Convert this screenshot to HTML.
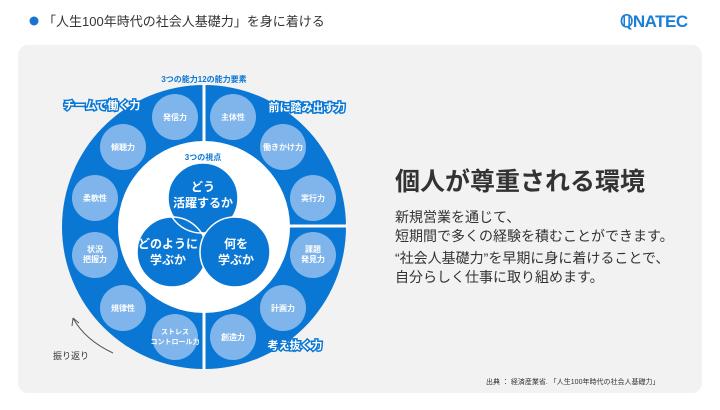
<!DOCTYPE html>
<html><head><meta charset="utf-8"><style>
body{margin:0;width:720px;height:405px;background:#fff;overflow:hidden;font-family:"Liberation Sans","Noto Sans CJK JP",sans-serif}
</style></head><body>
<svg width="720" height="405" xmlns="http://www.w3.org/2000/svg" style="font-family:'Liberation Sans','Noto Sans CJK JP',sans-serif">
<circle cx="34" cy="21" r="4.5" fill="#1a73d1"/>
<text x="43" y="26" font-size="13" fill="#333">「人生100年時代の社会人基礎力」を身に着ける</text>
<text x="620" y="27" font-size="17" font-weight="bold" fill="#1a7fd6" letter-spacing="-0.5">ℚNATEC</text>
<rect x="18" y="45" width="684" height="348" rx="10" fill="#f2f2f2"/>
<circle cx="204" cy="227" r="142" fill="#0a77d5"/>
<line x1="204" y1="84" x2="204" y2="142" stroke="#fff" stroke-width="3"/>
<line x1="204" y1="312" x2="204" y2="370" stroke="#fff" stroke-width="3"/>
<line x1="289" y1="226" x2="347" y2="226" stroke="#fff" stroke-width="3"/>
<circle cx="204" cy="227" r="86" fill="#fff"/>
<g fill="#7fb5ea">
<circle cx="175" cy="117" r="23"/><circle cx="233" cy="117" r="23"/>
<circle cx="123" cy="147" r="23"/><circle cx="283" cy="147" r="23"/>
<circle cx="95" cy="198" r="23"/><circle cx="313" cy="198" r="23"/>
<circle cx="95" cy="255" r="23"/><circle cx="313" cy="255" r="23"/>
<circle cx="123" cy="308" r="23"/><circle cx="283" cy="308" r="23"/>
<circle cx="175" cy="337" r="23"/><circle cx="233" cy="337" r="23"/>
</g>
<g fill="#fff" font-size="8" font-weight="bold" text-anchor="middle">
<text x="175" y="120">発信力</text><text x="233" y="120">主体性</text>
<text x="123" y="150">傾聴力</text><text x="283" y="150">働きかけ力</text>
<text x="95" y="201">柔軟性</text><text x="313" y="201">実行力</text>
<text x="95" y="252">状況</text><text x="95" y="262">把握力</text>
<text x="313" y="252">課題</text><text x="313" y="262">発見力</text>
<text x="123" y="311">規律性</text><text x="283" y="311">計画力</text>
<text x="175" y="334" font-size="7">ストレス</text><text x="175" y="344" font-size="7">コントロール力</text>
<text x="233" y="340">創造力</text>
</g>
<g fill="#0a77d5" stroke="#fff" stroke-width="1.5">
<circle cx="203" cy="198" r="35"/>
<circle cx="172" cy="252" r="35"/>
<circle cx="235" cy="252" r="35"/>
</g>
<path d="M203 233 A35 35 0 0 1 172 217" fill="none" stroke="#fff" stroke-width="1.5"/>
<g fill="#fff" font-size="12" font-weight="bold" text-anchor="middle">
<text x="203" y="191">どう</text><text x="203" y="207">活躍するか</text>
<text x="168" y="248">どのように</text><text x="168" y="264">学ぶか</text>
<text x="236" y="248">何を</text><text x="236" y="264">学ぶか</text>
</g>
<text x="203" y="160" font-size="8" fill="#0a77d5" text-anchor="middle" font-weight="bold">3つの視点</text>
<text x="204" y="82" font-size="8" fill="#0a77d5" text-anchor="middle" font-weight="bold">3つの能力12の能力要素</text>
<g fill="#fff" stroke="#0a77d5" stroke-width="3" paint-order="stroke" font-size="11" font-weight="bold" text-anchor="middle">
<text x="102" y="109">チームで働く力</text>
<text x="307" y="111">前に踏み出す力</text>
<text x="295" y="349">考え抜く力</text>
</g>
<path d="M113 353 Q85 340 73 318" fill="none" stroke="#555" stroke-width="1"/>
<path d="M73 318 L72 326 M73 318 L79 323" fill="none" stroke="#555" stroke-width="1"/>
<text x="53" y="359" font-size="9" fill="#333">振り返り</text>
<text x="395" y="190" font-size="25" font-weight="bold" fill="#333">個人が尊重される環境</text>
<g font-size="14" fill="#333">
<text x="395" y="222">新規営業を通じて、</text>
<text x="395" y="241">短期間で多くの経験を積むことができます。</text>
<text x="395" y="263">“社会人基礎力”を早期に身に着けることで、</text>
<text x="395" y="282">自分らしく仕事に取り組めます。</text>
</g>
<text x="486" y="384" font-size="7" fill="#333">出典 ： 経済産業省. 「人生100年時代の社会人基礎力」</text>
</svg>
</body></html>
